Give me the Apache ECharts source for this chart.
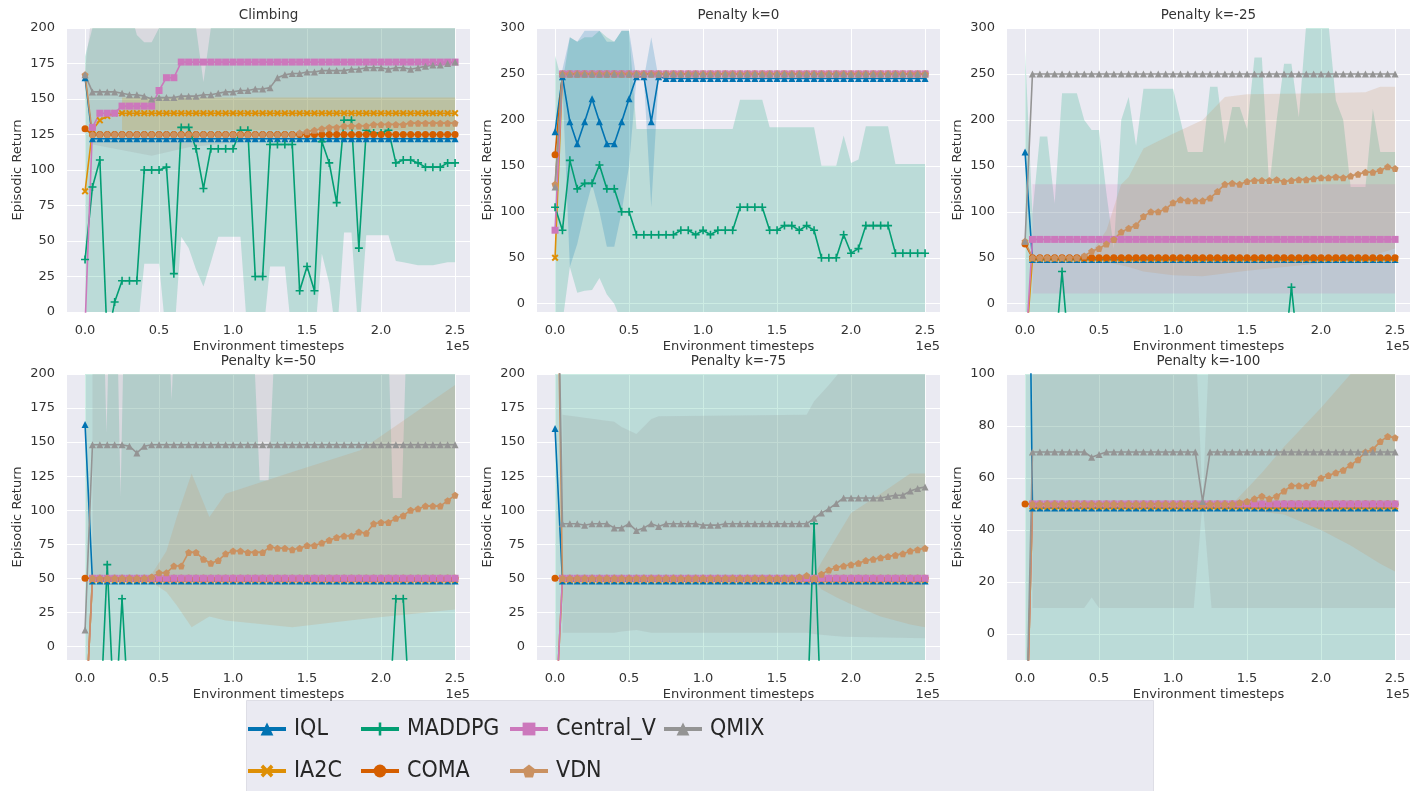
<!DOCTYPE html>
<html><head><meta charset="utf-8">
<script src="https://cdn.jsdelivr.net/npm/echarts@6/dist/echarts.min.js"></script>
<style>html,body{margin:0;padding:0;background:#fff;}#chart{width:1412px;height:791px;}</style>
</head><body><div id="chart"></div>
<script>
// ---------------- DATA ----------------
const steps = [0,5000,10000,15000,20000,25000,30000,35000,40000,45000,
 50000,55000,60000,65000,70000,75000,80000,85000,90000,95000,
 100000,105000,110000,115000,120000,125000,130000,135000,140000,145000,
 150000,155000,160000,165000,170000,175000,180000,185000,190000,195000,
 200000,205000,210000,215000,220000,225000,230000,235000,240000,245000,
 250000];
const xTicks = [0,50000,100000,150000,200000,250000];
const yTicks200 = [0,25,50,75,100,125,150,175,200];
const yTicks300 = [0,50,100,150,200,250,300];
const yTicks100 = [0,20,40,60,80,100];
const methods = ['IQL','IA2C','MADDPG','COMA','Central_V','VDN','QMIX'];
const titles = ['Climbing','Penalty k=0','Penalty k=-25','Penalty k=-50','Penalty k=-75','Penalty k=-100'];

// Panel 1: Climbing
const climbIQL = [165,
 122,122,122,122,122,122,122,122,122,122,
 122,122,122,122,122,122,122,122,122,122,
 122,122,122,122,122,122,122,122,122,122,
 122,122,122,122,122,122,122,122,122,122,
 122,122,122,122,122,122,122,122,122,122];
const climbIA2C = [85,128,135,138,140,140,140,140,140,140,
 140,140,140,140,140,140,140,140,140,140,
 140,140,140,140,140,140,140,140,140,140,
 140,140,140,140,140,140,140,140,140,140,
 140,140,140,140,140,140,140,140,140,140,
 140];
const climbMADDPG = [37,88,107,-20,7,22,22,22,100,100,
 100,102,27,130,130,115,87,115,115,115,
 115,128,128,25,25,118,118,118,118,15,
 32,15,120,105,77,135,135,45,128,126,
 126,128,105,107,107,105,102,102,102,105,
 105];
const climbCOMA = [129,
 125,125,125,125,125,125,125,125,125,125,
 125,125,125,125,125,125,125,125,125,125,
 125,125,125,125,125,125,125,125,125,125,
 125,125,125,125,125,125,125,125,125,125,
 125,125,125,125,125,125,125,125,125,125];
const climbCentralV = [-10,130,140,140,140,145,145,145,145,145,
 156,165,165,176,176,176,176,176,176,176,
 176,176,176,176,176,176,176,176,176,176,
 176,176,176,176,176,176,176,176,176,176,
 176,176,176,176,176,176,176,176,176,176,
 176];
const climbVDN = [167,125,125,125,125,125,125,125,125,125,
 125,125,125,125,125,125,125,125,125,125,
 125,125,125,125,125,125,125,125,125,126,
 127,128,129,130,130,131,131,131,131,132,
 132,132,132,132,133,133,133,133,133,133,
 133];
const climbQMIX = [167,155,155,155,155,154,153,153,152,150,
 151,151,151,152,152,152,153,153,154,155,
 155,156,156,157,157,158,165,167,168,168,
 169,169,170,170,170,170,171,171,172,172,
 172,171,172,172,171,172,173,174,174,175,
 176];
const climbMaddpgLo = [-20,-20,-20,-20,-20,-20,-20,-20,34,34,
 34,-20,-20,53,45,30,18,35,53,53,
 53,53,-20,-20,-20,32,32,32,-20,-20,
 -20,-20,41,20,-20,56,56,-20,54,54,
 54,54,36,35,34,33,33,33,34,35,
 35];
const climbMaddpgHi = [180,200,215,215,215,215,215,195,190,190,
 200,215,215,215,215,200,162,200,215,215,
 215,215,215,215,215,215,215,215,215,215,
 215,215,215,215,215,215,215,215,215,215,
 215,215,215,215,215,215,215,215,215,215,
 215];
const climbQmixBandX = [0,5000,45000,70000,125000,250000];
const climbQmixLo = [165,118,110,116,122,122];
const climbQmixHi = [170,215,215,215,215,215];
const climbIa2cBandX = [25000,250000];
const climbIa2cLo = [128,128];
const climbIa2cHi = [151,151];

// Panel 2: Penalty k=0
const k0IQL = [187,247,198,174,198,223,198,174,174,198,
 223,247,247,198,247,245,245,245,245,245,
 245,245,245,245,245,245,245,245,245,245,
 245,245,245,245,245,245,245,245,245,245,
 245,245,245,245,245,245,245,245,245,245,
 245];
const k0IA2C = [50,
 250,250,250,250,250,250,250,250,250,250,
 250,250,250,250,250,250,250,250,250,250,
 250,250,250,250,250,250,250,250,250,250,
 250,250,250,250,250,250,250,250,250,250,
 250,250,250,250,250,250,250,250,250,250];
const k0MADDPG = [105,80,156,125,131,131,151,125,125,100,
 100,75,75,75,75,75,75,80,80,75,
 80,75,80,80,80,105,105,105,105,80,
 80,85,85,80,85,80,50,50,50,75,
 55,60,85,85,85,85,55,55,55,55,
 55];
const k0COMA = [162,
 250,250,250,250,250,250,250,250,250,250,
 250,250,250,250,250,250,250,250,250,250,
 250,250,250,250,250,250,250,250,250,250,
 250,250,250,250,250,250,250,250,250,250,
 250,250,250,250,250,250,250,250,250,250];
const k0CentralV = [80,
 250,250,250,250,250,250,250,250,250,250,
 250,250,250,250,250,250,250,250,250,250,
 250,250,250,250,250,250,250,250,250,250,
 250,250,250,250,250,250,250,250,250,250,
 250,250,250,250,250,250,250,250,250,250];
const k0VDN = [130,
 250,250,250,250,250,250,250,250,250,250,
 250,250,250,250,250,250,250,250,250,250,
 250,250,250,250,250,250,250,250,250,250,
 250,250,250,250,250,250,250,250,250,250,
 250,250,250,250,250,250,250,250,250,250];
const k0QMIX = [127,
 250,250,250,250,250,250,250,250,250,250,
 250,250,250,250,250,250,250,250,250,250,
 250,250,250,250,250,250,250,250,250,250,
 250,250,250,250,250,250,250,250,250,250,
 250,250,250,250,250,250,250,250,250,250];
const k0IqlBandX = [0,5000,10000,15000,20000,25000,30000,35000,40000,45000,50000,55000,60000,65000,70000];
const k0IqlLo = [187,240,40,65,100,130,100,62,62,100,150,245,245,105,245];
const k0IqlHi = [187,255,290,285,297,297,297,285,285,297,297,245,245,290,245];
const k0MaddpgLo = [-20,-20,40,12,14,15,28,10,0,-20,
 -20,-20,-20,-20,-20,-20,-20,-20,-20,-20,
 -20,-20,-20,-20,-20,-20,-20,-20,-20,-20,
 -20,-20,-20,-20,-20,-20,-20,-20,-20,-20,
 -20,-20,-20,-20,-20,-20,-20,-20,-20,-20,
 -20];
const k0MaddpgHi = [270,240,290,285,290,290,297,290,285,297,
 297,190,190,190,190,190,190,190,190,190,
 190,190,190,190,190,222,222,222,222,192,
 192,192,192,192,192,192,150,150,150,183,
 153,157,193,193,193,193,152,152,152,152,
 152];

// Panel 3: Penalty k=-25
const k25IQL = [165,
 48,48,48,48,48,48,48,48,48,48,
 48,48,48,48,48,48,48,48,48,48,
 48,48,48,48,48,48,48,48,48,48,
 48,48,48,48,48,48,48,48,48,48,
 48,48,48,48,48,48,48,48,48,48];
const k25IA2C = [-60,
 49,49,49,49,49,49,49,49,49,49,
 49,49,49,49,49,49,49,49,49,49,
 49,49,49,49,49,49,49,49,49,49,
 49,49,49,49,49,49,49,49,49,49,
 49,49,49,49,49,49,49,49,49,49];
const k25MADDPG = [-60,-60,-60,-60,-60,35,-60,-60,-60,-60,
 -60,-60,-60,-60,-60,-60,-60,-60,-60,-60,
 -60,-60,-60,-60,-60,-60,-60,-60,-60,-60,
 -60,-60,-60,-60,-60,-60,18,-60,-60,-60,
 -60,-60,-60,-60,-60,-60,-60,-60,-60,-60,
 -60];
const k25COMA = [65,
 50,50,50,50,50,50,50,50,50,50,
 50,50,50,50,50,50,50,50,50,50,
 50,50,50,50,50,50,50,50,50,50,
 50,50,50,50,50,50,50,50,50,50,
 50,50,50,50,50,50,50,50,50,50];
const k25CentralV = [-60,
 70,70,70,70,70,70,70,70,70,70,
 70,70,70,70,70,70,70,70,70,70,
 70,70,70,70,70,70,70,70,70,70,
 70,70,70,70,70,70,70,70,70,70,
 70,70,70,70,70,70,70,70,70,70];
const k25VDN = [68,50,50,50,50,50,50,50,52,57,
 60,65,70,78,82,85,95,100,100,103,
 110,113,112,112,112,115,122,130,131,130,
 133,134,134,134,135,133,134,135,135,136,
 137,137,138,137,139,141,143,143,145,149,
 147];
const k25QMIX = [68,
 250,250,250,250,250,250,250,250,250,250,
 250,250,250,250,250,250,250,250,250,250,
 250,250,250,250,250,250,250,250,250,250,
 250,250,250,250,250,250,250,250,250,250,
 250,250,250,250,250,250,250,250,250,250];
const k25MaddpgLo = [-60,-60,-60,-60,-60,-60,-60,-60,-60,-60,
 -60,-60,-60,-60,-60,-60,-60,-60,-60,-60,
 -60,-60,-60,-60,-60,-60,-60,-60,-60,-60,
 -60,-60,-60,-60,-60,-60,-60,-60,-60,-60,
 -60,-60,-60,-60,-60,-60,-60,-60,-60,-60,
 -60];
const k25MaddpgHi = [276,98,182,182,109,229,229,229,200,189,
 189,120,60,200,225,172,234,234,234,234,
 234,200,165,165,165,236,236,174,214,214,
 190,268,268,127,200,261,261,203,305,310,
 310,305,221,200,127,127,127,212,165,165,
 165];
const k25CentralVBandX = [5000,250000];
const k25CentralVLo = [11,11];
const k25CentralVHi = [130,130];
const k25VdnBandX = [35000,45000,55000,65000,70000,80000,100000,120000,135000,150000,200000,230000,240000,250000];
const k25VdnLo = [50,48,45,42,40,35,31,30,33,36,44,50,55,60];
const k25VdnHi = [50,56,80,130,138,169,185,200,225,228,229,230,236,236];

// Panel 4: Penalty k=-50
const k50IQL = [163,
 48,48,48,48,48,48,48,48,48,48,
 48,48,48,48,48,48,48,48,48,48,
 48,48,48,48,48,48,48,48,48,48,
 48,48,48,48,48,48,48,48,48,48,
 48,48,48,48,48,48,48,48,48,48];
const k50IA2C = [-60,
 49,49,49,49,49,49,49,49,49,49,
 49,49,49,49,49,49,49,49,49,49,
 49,49,49,49,49,49,49,49,49,49,
 49,49,49,49,49,49,49,49,49,49,
 49,49,49,49,49,49,49,49,49,49];
const k50MADDPG = [-60,-60,-60,60,-60,35,-60,-60,-60,-60,
 -60,-60,-60,-60,-60,-60,-60,-60,-60,-60,
 -60,-60,-60,-60,-60,-60,-60,-60,-60,-60,
 -60,-60,-60,-60,-60,-60,-60,-60,-60,-60,
 -60,-60,35,35,-60,-60,-60,-60,-60,-60,
 -60];
const k50COMA = [50,
 50,50,50,50,50,50,50,50,50,50,
 50,50,50,50,50,50,50,50,50,50,
 50,50,50,50,50,50,50,50,50,50,
 50,50,50,50,50,50,50,50,50,50,
 50,50,50,50,50,50,50,50,50,50];
const k50CentralV = [-60,
 50,50,50,50,50,50,50,50,50,50,
 50,50,50,50,50,50,50,50,50,50,
 50,50,50,50,50,50,50,50,50,50,
 50,50,50,50,50,50,50,50,50,50,
 50,50,50,50,50,50,50,50,50,50];
const k50VDN = [-60,50,50,50,50,50,50,50,50,51,
 54,54,59,59,69,69,64,61,63,68,
 70,70,69,69,69,73,72,72,71,72,
 74,74,76,78,80,81,81,84,83,90,
 91,91,94,96,100,101,103,103,103,107,
 111];
const k50QMIX = [12,148,148,148,148,148,147,142,147,148,
 148,148,148,148,148,148,148,148,148,148,
 148,148,148,148,148,148,148,148,148,148,
 148,148,148,148,148,148,148,148,148,148,
 148,148,148,148,148,148,148,148,148,148,
 148];
const k50MaddpgBandX = [0,13000,14500,16000,22000,24000,26000,57000,58500,60000,114000,118000,124000,128000,205000,208000,214000,217000,250000];
const k50MaddpgLo = [-60,-60,-60,-60,-60,-60,-60,-60,-60,-60,-60,-60,-60,-60,-60,-60,-60,-60,-60];
const k50MaddpgHi = [220,220,157,220,220,110,220,220,181,220,220,122,122,220,220,109,109,220,220];
const k50QmixBandX = [5000,250000];
const k50QmixLo = [48,48];
const k50QmixHi = [250,250];
const k50VdnBandX = [40000,45000,55000,62000,72000,84000,95000,140000,186000,250000];
const k50VdnLo = [50,47,40,30,14,22,19,14,20,27];
const k50VdnHi = [50,53,70,95,127,95,112,128,144,192];

// Panel 5: Penalty k=-75
const k75IQL = [160,
 48,48,48,48,48,48,48,48,48,48,
 48,48,48,48,48,48,48,48,48,48,
 48,48,48,48,48,48,48,48,48,48,
 48,48,48,48,48,48,48,48,48,48,
 48,48,48,48,48,48,48,48,48,48];
const k75IA2C = [-60,
 49,49,49,49,49,49,49,49,49,49,
 49,49,49,49,49,49,49,49,49,49,
 49,49,49,49,49,49,49,49,49,49,
 49,49,49,49,49,49,49,49,49,49,
 49,49,49,49,49,49,49,49,49,49];
const k75MADDPG = [-60,-60,-60,-60,-60,-60,-60,-60,-60,-60,
 -60,-60,-60,-60,-60,-60,-60,-60,-60,-60,
 -60,-60,-60,-60,-60,-60,-60,-60,-60,-60,
 -60,-60,-60,-60,-60,90,-60,-60,-60,-60,
 -60,-60,-60,-60,-60,-60,-60,-60,-60,-60,
 -60];
const k75COMA = [50,
 50,50,50,50,50,50,50,50,50,50,
 50,50,50,50,50,50,50,50,50,50,
 50,50,50,50,50,50,50,50,50,50,
 50,50,50,50,50,50,50,50,50,50,
 50,50,50,50,50,50,50,50,50,50];
const k75CentralV = [-60,
 50,50,50,50,50,50,50,50,50,50,
 50,50,50,50,50,50,50,50,50,50,
 50,50,50,50,50,50,50,50,50,50,
 50,50,50,50,50,50,50,50,50,50,
 50,50,50,50,50,50,50,50,50,50];
const k75VDN = [400,50,50,50,50,50,50,50,50,50,
 50,50,50,50,50,50,50,50,50,50,
 50,50,50,50,50,50,50,50,50,50,
 50,50,50,51,52,50,53,56,58,59,
 60,61,63,64,65,66,67,68,70,71,
 72];
const k75QMIX = [400,90,90,90,89,90,90,90,87,87,
 90,85,87,90,88,90,90,90,90,90,
 89,89,89,90,90,90,90,90,90,90,
 90,90,90,90,90,94,98,101,105,109,
 109,109,109,109,109,110,111,111,114,116,
 117];
const k75MaddpgBandX = [0,250000];
const k75MaddpgLo = [-60,-60];
const k75MaddpgHi = [250,250];
const k75QmixBandX = [5000,40000,45000,55000,65000,70000,170000,175000,185000,195000,250000];
const k75QmixLo = [10,10,11,12,10,10,10,9,8,7,6];
const k75QmixHi = [170,165,161,156,167,169,170,180,192,205,260];
const k75VdnBandX = [170000,175000,180000,190000,200000,220000,240000,250000];
const k75VdnLo = [50,48,42,36,31,22,16,14];
const k75VdnHi = [50,52,62,80,98,112,127,127];

// Panel 6: Penalty k=-100
const k100IQL = [300,
 48.5,48.5,48.5,48.5,48.5,48.5,48.5,48.5,48.5,48.5,
 48.5,48.5,48.5,48.5,48.5,48.5,48.5,48.5,48.5,48.5,
 48.5,48.5,48.5,48.5,48.5,48.5,48.5,48.5,48.5,48.5,
 48.5,48.5,48.5,48.5,48.5,48.5,48.5,48.5,48.5,48.5,
 48.5,48.5,48.5,48.5,48.5,48.5,48.5,48.5,48.5,48.5];
const k100IA2C = [-60,
 49,49,49,49,49,49,49,49,49,49,
 49,49,49,49,49,49,49,49,49,49,
 49,49,49,49,49,49,49,49,49,49,
 49,49,49,49,49,49,49,49,49,49,
 49,49,49,49,49,49,49,49,49,49];
const k100MADDPG = [-60,-60,-60,-60,-60,-60,-60,-60,-60,-60,
 -60,-60,-60,-60,-60,-60,-60,-60,-60,-60,
 -60,-60,-60,-60,-60,-60,-60,-60,-60,-60,
 -60,-60,-60,-60,-60,-60,-60,-60,-60,-60,
 -60,-60,-60,-60,-60,-60,-60,-60,-60,-60,
 -60];
const k100COMA = [50,
 50,50,50,50,50,50,50,50,50,50,
 50,50,50,50,50,50,50,50,50,50,
 50,50,50,50,50,50,50,50,50,50,
 50,50,50,50,50,50,50,50,50,50,
 50,50,50,50,50,50,50,50,50,50];
const k100CentralV = [-60,
 50,50,50,50,50,50,50,50,50,50,
 50,50,50,50,50,50,50,50,50,50,
 50,50,50,50,50,50,50,50,50,50,
 50,50,50,50,50,50,50,50,50,50,
 50,50,50,50,50,50,50,50,50,50];
const k100VDN = [-60,50,50,50,50,50,50,50,50,50,
 50,50,50,50,50,50,50,50,50,50,
 50,50,50,50,50,50,50,50,50,50.5,
 51,52,53,52,53,55,57,57,57,58,
 60,61,62,63,65,67,70,71,74,76,
 75.5];
const k100QMIX = [-60,70,70,70,70,70,70,70,70,68,
 69,70,70,70,70,70,70,70,70,70,
 70,70,70,70,51,70,70,70,70,70,
 70,70,70,70,70,70,70,70,70,70,
 70,70,70,70,70,70,70,70,70,70,
 70];
const k100MaddpgBandX = [0,250000];
const k100MaddpgLo = [-60,-60];
const k100MaddpgHi = [200,200];
const k100QmixBandX = [5000,40000,45000,50000,114000,120000,126000,250000];
const k100QmixLo = [10,10,14,10,10,51,10,10];
const k100QmixHi = [130,130,130,130,130,51,130,130];
const k100VdnBandX = [140000,150000,160000,175000,200000,220000,240000,250000];
const k100VdnLo = [50,48,47,46,40,34,27,24];
const k100VdnHi = [50,56,62,72,87,100,115,120];

// ---------------- STYLE ----------------
const COLORS = {IQL:'#0173b2', IA2C:'#de8f05', MADDPG:'#029e73', COMA:'#d55e00', Central_V:'#cc78bc', VDN:'#ca9161', QMIX:'#949494'};
const SYMBOLS = {
  IQL:'triangle',
  IA2C:'path://M2,0L5,3L8,0L10,2L7,5L10,8L8,10L5,7L2,10L0,8L3,5L0,2Z',
  MADDPG:'path://M4,0H6V4H10V6H6V10H4V6H0V4H4Z',
  COMA:'circle',
  Central_V:'rect',
  VDN:'path://M5,0L10,3.8L8.1,10L1.9,10L0,3.8Z',
  QMIX:'triangle'
};
const SIZES = {IQL:7, IA2C:7, MADDPG:8, COMA:7, Central_V:7, VDN:7, QMIX:7};
const TXT = '#333333';
const FONT = 'DejaVu Sans';

const panels = [
  {yMin:0, yMax:200, yTicks:yTicks200,
   lines:{IQL:climbIQL, IA2C:climbIA2C, MADDPG:climbMADDPG, COMA:climbCOMA, Central_V:climbCentralV, VDN:climbVDN, QMIX:climbQMIX},
   bands:[{name:'MADDPG', x:steps, lo:climbMaddpgLo, hi:climbMaddpgHi},
          {name:'QMIX', x:climbQmixBandX, lo:climbQmixLo, hi:climbQmixHi},
          {name:'IA2C', x:climbIa2cBandX, lo:climbIa2cLo, hi:climbIa2cHi}]},
  {yMin:-9, yMax:300, yTicks:yTicks300,
   lines:{IQL:k0IQL, IA2C:k0IA2C, MADDPG:k0MADDPG, COMA:k0COMA, Central_V:k0CentralV, VDN:k0VDN, QMIX:k0QMIX},
   bands:[{name:'MADDPG', x:steps, lo:k0MaddpgLo, hi:k0MaddpgHi},
          {name:'IQL', x:k0IqlBandX, lo:k0IqlLo, hi:k0IqlHi}]},
  {yMin:-9, yMax:300, yTicks:yTicks300,
   lines:{IQL:k25IQL, IA2C:k25IA2C, MADDPG:k25MADDPG, COMA:k25COMA, Central_V:k25CentralV, VDN:k25VDN, QMIX:k25QMIX},
   bands:[{name:'MADDPG', x:steps, lo:k25MaddpgLo, hi:k25MaddpgHi},
          {name:'Central_V', x:k25CentralVBandX, lo:k25CentralVLo, hi:k25CentralVHi},
          {name:'VDN', x:k25VdnBandX, lo:k25VdnLo, hi:k25VdnHi}]},
  {yMin:-10, yMax:200, yTicks:yTicks200,
   lines:{IQL:k50IQL, IA2C:k50IA2C, MADDPG:k50MADDPG, COMA:k50COMA, Central_V:k50CentralV, VDN:k50VDN, QMIX:k50QMIX},
   bands:[{name:'MADDPG', x:k50MaddpgBandX, lo:k50MaddpgLo, hi:k50MaddpgHi},
          {name:'QMIX', x:k50QmixBandX, lo:k50QmixLo, hi:k50QmixHi},
          {name:'VDN', x:k50VdnBandX, lo:k50VdnLo, hi:k50VdnHi}]},
  {yMin:-10, yMax:200, yTicks:yTicks200,
   lines:{IQL:k75IQL, IA2C:k75IA2C, MADDPG:k75MADDPG, COMA:k75COMA, Central_V:k75CentralV, VDN:k75VDN, QMIX:k75QMIX},
   bands:[{name:'MADDPG', x:k75MaddpgBandX, lo:k75MaddpgLo, hi:k75MaddpgHi},
          {name:'QMIX', x:k75QmixBandX, lo:k75QmixLo, hi:k75QmixHi},
          {name:'VDN', x:k75VdnBandX, lo:k75VdnLo, hi:k75VdnHi}]},
  {yMin:-10, yMax:100, yTicks:yTicks100,
   lines:{IQL:k100IQL, IA2C:k100IA2C, MADDPG:k100MADDPG, COMA:k100COMA, Central_V:k100CentralV, VDN:k100VDN, QMIX:k100QMIX},
   bands:[{name:'MADDPG', x:k100MaddpgBandX, lo:k100MaddpgLo, hi:k100MaddpgHi},
          {name:'QMIX', x:k100QmixBandX, lo:k100QmixLo, hi:k100QmixHi},
          {name:'VDN', x:k100VdnBandX, lo:k100VdnLo, hi:k100VdnHi}]}
];

const gridBoxes = [
  {left:67, top:28, width:403, height:284},
  {left:537, top:28, width:403, height:284},
  {left:1007, top:28, width:403, height:284},
  {left:67, top:374, width:403, height:286},
  {left:537, top:374, width:403, height:286},
  {left:1007, top:374, width:403, height:286}
];

function rgba(hex, a){
  const n = parseInt(hex.slice(1),16);
  return 'rgba('+((n>>16)&255)+','+((n>>8)&255)+','+(n&255)+','+a+')';
}

function pickLegendFont(){
  const c = document.createElement('canvas').getContext('2d');
  const probe = 'MADDPG Central_V';
  c.font = '40px monospace';
  const base = c.measureText(probe).width;
  let fam = 'DejaVu Sans';
  const cands = ['Liberation Sans Narrow','DejaVu Sans Condensed','Roboto Condensed','Liberation Sans'];
  for (const f of cands){
    c.font = '40px "'+f+'", monospace';
    if (Math.abs(c.measureText(probe).width - base) > 0.5){ fam = f; break; }
  }
  let size = 34;
  while (size > 16){
    c.font = size+'px "'+fam+'"';
    if (c.measureText('Central_V').width <= 102 && c.measureText('MADDPG').width <= 97) break;
    size--;
  }
  return {fam, size};
}
const LF = pickLegendFont();

const grid = [], xAxis = [], yAxis = [], series = [], title = [];
panels.forEach((p, i) => {
  const g = gridBoxes[i];
  grid.push({left:g.left, top:g.top, width:g.width, height:g.height, show:true, backgroundColor:'#eaeaf2', borderWidth:0, containLabel:false});
  xAxis.push({
    gridIndex:i, type:'value', min:-12200, max:260100,
    name:'Environment timesteps', nameLocation:'middle', nameGap:28,
    nameTextStyle:{fontSize:13, color:TXT, fontFamily:FONT},
    axisLine:{show:false}, axisTick:{show:false, customValues:xTicks},
    axisLabel:{customValues:xTicks, formatter:v => (v/1e5).toFixed(1), fontSize:13, color:TXT, fontFamily:FONT, margin:12},
    splitLine:{show:true, lineStyle:{color:'#ffffff', width:1}}
  });
  yAxis.push({
    gridIndex:i, type:'value', min:p.yMin, max:p.yMax,
    name:'Episodic Return', nameLocation:'middle', nameGap:43,
    nameTextStyle:{fontSize:13, color:TXT, fontFamily:FONT},
    axisLine:{show:false}, axisTick:{show:false, customValues:p.yTicks},
    axisLabel:{customValues:p.yTicks, fontSize:13, color:TXT, fontFamily:FONT, margin:12},
    splitLine:{show:true, lineStyle:{color:'#ffffff', width:1}}
  });
  title.push({text:titles[i], left:g.left + g.width/2, top:g.top - 20, textAlign:'center', padding:0,
    textStyle:{fontSize:13.5, fontWeight:'normal', color:TXT, fontFamily:FONT}});
  title.push({text:'1e5', left:g.left + g.width, top:g.top + g.height + 28, textAlign:'right', padding:0,
    textStyle:{fontSize:13, fontWeight:'normal', color:TXT, fontFamily:FONT}});

  p.bands.forEach(b => {
    series.push({
      type:'custom', xAxisIndex:i, yAxisIndex:i, silent:true, z:1, clip:true,
      data: b.x.map((x, j) => [x, b.lo[j], b.hi[j]]),
      encode:{x:0, y:[1,2]},
      renderItem: (params, api) => {
        if (params.dataIndex !== 0) return null;
        const pts = [];
        for (let j = 0; j < b.x.length; j++) pts.push(api.coord([b.x[j], b.hi[j]]));
        for (let j = b.x.length - 1; j >= 0; j--) pts.push(api.coord([b.x[j], b.lo[j]]));
        const cs = params.coordSys;
        return {type:'polygon', shape:{points:pts}, style:{fill:rgba(COLORS[b.name], 0.2), stroke:null},
          clipPath:{type:'rect', shape:{x:cs.x, y:cs.y, width:cs.width, height:cs.height}}};
      }
    });
  });
  methods.forEach(m => {
    series.push({
      type:'line', name:m, xAxisIndex:i, yAxisIndex:i, z:3,
      data: steps.map((x, j) => [x, p.lines[m][j]]),
      symbol:SYMBOLS[m], symbolSize:SIZES[m], showSymbol:true,
      lineStyle:{width:1.6, color:COLORS[m]},
      itemStyle:{color:COLORS[m], borderWidth:0},
      emphasis:{disabled:true}, silent:true, clip:true
    });
  });
});

const lh = 34;
const legendBase = {
  orient:'vertical', itemWidth:38, itemHeight:16, itemGap:42 - lh, padding:0,
  selectedMode:false, top:729 - lh/2,
  lineStyle:{width:4},
  textStyle:{fontSize:LF.size, fontFamily:LF.fam, color:'#262626', lineHeight:lh, padding:[0,0,0,3]}
};
const legend = [
  Object.assign({}, legendBase, {left:246, data:['IQL','IA2C']}),
  Object.assign({}, legendBase, {left:359, data:['MADDPG','COMA']}),
  Object.assign({}, legendBase, {left:508, data:['Central_V','VDN']}),
  Object.assign({}, legendBase, {left:662, data:['QMIX']})
];

const chart = echarts.init(document.getElementById('chart'), null, {renderer:'canvas'});
chart.setOption({
  animation:false,
  backgroundColor:'#ffffff',
  textStyle:{fontFamily:FONT},
  title, grid, xAxis, yAxis, series, legend,
  graphic:[{type:'rect', left:246, top:700, z:-10, silent:true,
    shape:{width:907, height:95}, style:{fill:'#eaeaf2', stroke:'#dedee6', lineWidth:1}}]
});
</script>
</body></html>
